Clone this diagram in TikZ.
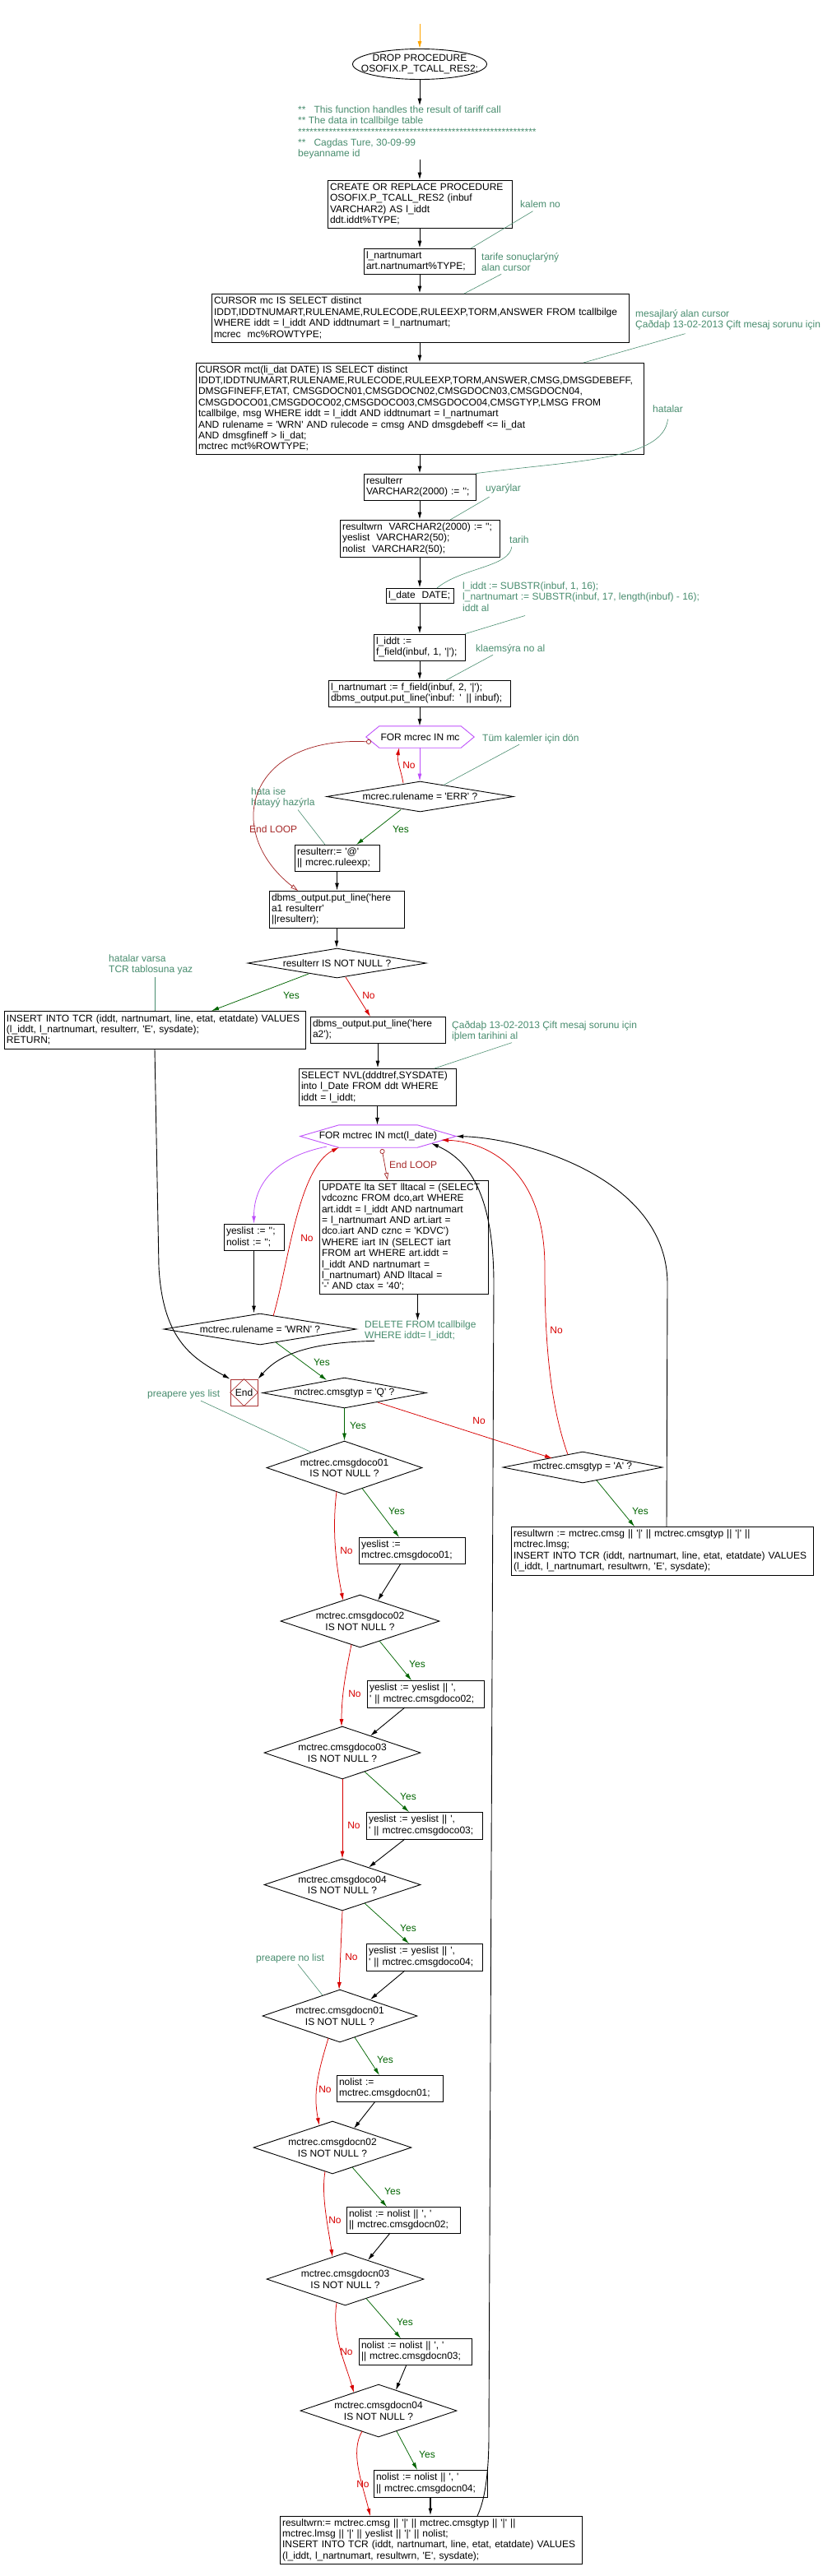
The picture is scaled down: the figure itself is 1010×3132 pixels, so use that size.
\documentclass[tikz,border=0pt]{standalone}
\usepackage{fontspec}
\newfontfamily\arl{Liberation Sans}
\usetikzlibrary{arrows.meta,shapes.geometric}
\definecolor{notec}{RGB}{72,140,110}
\definecolor{yesc}{RGB}{0,100,0}
\definecolor{noc}{RGB}{215,0,0}
\definecolor{loopc}{RGB}{165,40,40}
\definecolor{hexc}{RGB}{190,80,250}
\definecolor{orangec}{RGB}{255,165,0}
\definecolor{endc}{RGB}{170,50,50}
\newcommand\Lb[1]{\mbox{#1}}
\begin{document}
\begin{tikzpicture}[x=1pt,y=-1pt,
  every node/.style={font=\arl\fontsize{12}{13.4}\selectfont},
  pbox/.style={draw, line width=0.9pt, align=left, inner xsep=3pt, inner ysep=0pt},
  dia/.style={draw, diamond, line width=0.9pt, inner sep=0pt, align=center},
  note/.style={text=notec, align=left, inner sep=0pt, anchor=north west},
  lab/.style={inner sep=0pt},
  arr/.style={-{Latex[length=9pt,width=5pt]}, line width=0.9pt},
  yarr/.style={arr, line width=0.75pt, draw=yesc},
  narr/.style={arr, line width=0.75pt, draw=noc},
  parr/.style={arr, line width=0.8pt, draw=hexc},
  larr/.style={{Circle[open,length=6pt]}-{Triangle[open,length=9pt,width=5pt]}, line width=0.75pt, draw=loopc},
  ann/.style={draw=notec, line width=0.6pt},
  hexline/.style={draw=hexc, line width=0.9pt}
]
\useasboundingbox (0,0) rectangle (1010,3132);

% ---------- start ----------
\coordinate (start) at (510,29);
\node[draw, ellipse, line width=0.9pt, minimum width=163pt, minimum height=37pt, inner sep=0pt] (e0) at (510,78) {};
\node[align=center, inner sep=0pt] (e0t) at (e0.center) {DROP PROCEDURE\\OSOFIX.P\_TCALL\_RES2;};
\draw[arr, draw=orangec] (start) -- (e0.north);

\node[note] (c0) at (362,128.5) {**\ \ \ This function handles the result of tariff call\\** The data in tcallbilge table\\**************************************************************\\**\ \ \ Cagdas Ture, 30-09-99\\beyanname id};

% ---------- boxes ----------
\node[pbox, text width=218pt, minimum height=58pt] (b1) at (510,248) {\Lb{CREATE OR REPLACE PROCEDURE}\\\Lb{OSOFIX.P\_TCALL\_RES2 (inbuf}\\\Lb{VARCHAR2) AS l\_iddt}\\\Lb{ddt.iddt\%TYPE;}};
\node[pbox, text width=129pt, minimum height=31pt] (b2) at (509.5,317.5) {\Lb{l\_nartnumart}\\\Lb{art.nartnumart\%TYPE;}};
\node[pbox, text width=501pt, minimum height=59pt] (b3) at (510.5,386.5) {\Lb{CURSOR mc IS SELECT distinct}\\\Lb{IDDT,IDDTNUMART,RULENAME,RULECODE,RULEEXP,TORM,ANSWER FROM tcallbilge}\\\Lb{WHERE iddt = l\_iddt AND iddtnumart = l\_nartnumart;}\\\Lb{mcrec\ \ mc\%ROWTYPE;}};
\node[pbox, text width=538pt, minimum height=111pt] (b4) at (510,496.5) {\Lb{CURSOR mct(li\_dat DATE) IS SELECT distinct}\\\Lb{IDDT,IDDTNUMART,RULENAME,RULECODE,RULEEXP,TORM,ANSWER,CMSG,DMSGDEBEFF,}\\\Lb{DMSGFINEFF,ETAT, CMSGDOCN01,CMSGDOCN02,CMSGDOCN03,CMSGDOCN04,}\\\Lb{CMSGDOCO01,CMSGDOCO02,CMSGDOCO03,CMSGDOCO04,CMSGTYP,LMSG FROM}\\\Lb{tcallbilge, msg WHERE iddt = l\_iddt AND iddtnumart = l\_nartnumart}\\\Lb{AND rulename = 'WRN' AND rulecode = cmsg AND dmsgdebeff <= li\_dat}\\\Lb{AND dmsgfineff > li\_dat;}\\\Lb{mctrec mct\%ROWTYPE;}};
\node[pbox, text width=130pt, minimum height=32pt] (b5) at (510,592) {\Lb{resulterr}\\\Lb{VARCHAR2(2000) := '';}};
\node[pbox, text width=188pt, minimum height=45pt] (b6) at (510,654.5) {\Lb{resultwrn\ \ VARCHAR2(2000) := '';}\\\Lb{yeslist\ \ VARCHAR2(50);}\\\Lb{nolist\ \ VARCHAR2(50);}};
\node[pbox, text width=76pt, minimum height=18pt] (b7) at (510,724) {\Lb{l\_date\ \ DATE;}};
\node[pbox, text width=105pt, minimum height=32pt] (b8) at (509.5,787) {\Lb{l\_iddt :=}\\\Lb{f\_field(inbuf, 1, '|');}};
\node[pbox, text width=215pt, minimum height=32pt] (b9) at (509.5,843) {\Lb{l\_nartnumart := f\_field(inbuf, 2, '|');}\\\Lb{dbms\_output.put\_line('inbuf: ' || inbuf);}};

\node[inner sep=0pt, minimum width=131pt, minimum height=26pt] (hex1) at (510.5,896) {FOR mcrec IN mc};
\draw[hexline] (hex1.west) -- ([xshift=16pt]hex1.north west) -- ([xshift=-16pt]hex1.north east) -- (hex1.east) -- ([xshift=-16pt]hex1.south east) -- ([xshift=16pt]hex1.south west) -- cycle;

\node[dia, aspect=6.14, minimum width=227pt, minimum height=37pt] (d1) at (510.5,968.5) {mcrec.rulename = 'ERR' ?};
\node[pbox, text width=97pt, minimum height=32pt] (b10) at (409.5,1043) {\Lb{resulterr:= '@'}\\\Lb{|| mcrec.ruleexp;}};
\node[pbox, text width=158pt, minimum height=45pt] (b11) at (409,1105.5) {\Lb{dbms\_output.put\_line('here}\\\Lb{a1 resulterr'}\\\Lb{||resulterr);}};
\node[dia, aspect=6.03, minimum width=217pt, minimum height=36pt] (d2) at (409.5,1171) {resulterr IS NOT NULL ?};
\node[pbox, text width=360pt, minimum height=46pt] (b12) at (188,1252) {\Lb{INSERT INTO TCR (iddt, nartnumart, line, etat, etatdate) VALUES}\\\Lb{(l\_iddt, l\_nartnumart, resulterr, 'E', sysdate);}\\\Lb{RETURN;}};
\node[pbox, text width=158pt, minimum height=32pt] (b13) at (459,1252) {\Lb{dbms\_output.put\_line('here}\\\Lb{a2');}};
\node[pbox, text width=185pt, minimum height=45pt] (b14) at (458.5,1321.5) {\Lb{SELECT NVL(dddtref,SYSDATE)}\\\Lb{into l\_Date FROM ddt WHERE}\\\Lb{iddt = l\_iddt;}};

\node[inner sep=0pt, minimum width=189pt, minimum height=27pt] (hex2) at (459.5,1381.5) {FOR mctrec IN mct(l\_date)};
\draw[hexline] (hex2.west) -- ([xshift=47pt]hex2.north west) -- ([xshift=-47pt]hex2.north east) -- (hex2.east) -- ([xshift=-47pt]hex2.south east) -- ([xshift=47pt]hex2.south west) -- cycle;

\node[pbox, text width=199pt, minimum height=138pt] (b15) at (490.5,1504) {\Lb{UPDATE lta SET lltacal = (SELECT}\\\Lb{vdcoznc FROM dco,art WHERE}\\\Lb{art.iddt = l\_iddt AND nartnumart}\\\Lb{= l\_nartnumart AND art.iart =}\\\Lb{dco.iart AND cznc = 'KDVC')}\\\Lb{WHERE iart IN (SELECT iart}\\\Lb{FROM art WHERE art.iddt =}\\\Lb{l\_iddt AND nartnumart =}\\\Lb{l\_nartnumart) AND lltacal =}\\\Lb{'-' AND ctax = '40';}};
\node[pbox, text width=67pt, minimum height=32pt] (b16) at (308.5,1504) {\Lb{yeslist := '';}\\\Lb{nolist := '';}};
\node[dia, aspect=6.16, minimum width=234pt, minimum height=38pt] (dW) at (316,1616) {mctrec.rulename = 'WRN' ?};
\node[note] (del) at (443,1605.5) {DELETE FROM tcallbilge\\WHERE iddt= l\_iddt;};

\node[draw=endc, line width=0.9pt, minimum width=33pt, minimum height=32pt, inner sep=0pt] (End) at (296.5,1693) {End};
\draw[endc, line width=0.7pt] (End.north) -- (End.east) -- (End.south) -- (End.west) -- cycle;

\node[dia, aspect=5.38, minimum width=199pt, minimum height=37pt] (dQ) at (418.5,1693.5) {mctrec.cmsgtyp = 'Q' ?};
\node[dia, aspect=5.1, minimum width=194pt, minimum height=38pt] (dA) at (708,1784) {mctrec.cmsgtyp = 'A' ?};
\node[pbox, text width=361pt, minimum height=59pt] (bA) at (804.5,1885.5) {\Lb{resultwrn := mctrec.cmsg || '|' || mctrec.cmsgtyp || '|' ||}\\\Lb{mctrec.lmsg;}\\\Lb{INSERT INTO TCR (iddt, nartnumart, line, etat, etatdate) VALUES}\\\Lb{(l\_iddt, l\_nartnumart, resultwrn, 'E', sysdate);}};

\node[dia, aspect=2.91, minimum width=189pt, minimum height=65pt] (d01) at (418.5,1784.5) {mctrec.cmsgdoco01\\IS NOT NULL ?};
\node[pbox, text width=123pt, minimum height=32pt] (y1) at (500.5,1885) {\Lb{yeslist :=}\\\Lb{mctrec.cmsgdoco01;}};
\node[dia, aspect=3.02, minimum width=193pt, minimum height=64pt] (d02) at (437.5,1971) {mctrec.cmsgdoco02\\IS NOT NULL ?};
\node[pbox, text width=136pt, minimum height=33pt] (y2) at (517,2059.5) {\Lb{yeslist := yeslist || ',}\\\Lb{' || mctrec.cmsgdoco02;}};
\node[dia, aspect=2.97, minimum width=190pt, minimum height=64pt] (d03) at (416,2131) {mctrec.cmsgdoco03\\IS NOT NULL ?};
\node[pbox, text width=135pt, minimum height=33pt] (y3) at (515.5,2219.5) {\Lb{yeslist := yeslist || ',}\\\Lb{' || mctrec.cmsgdoco03;}};
\node[dia, aspect=3.02, minimum width=190pt, minimum height=63pt] (d04) at (416,2291.5) {mctrec.cmsgdoco04\\IS NOT NULL ?};
\node[pbox, text width=135pt, minimum height=33pt] (y4) at (515.5,2379.5) {\Lb{yeslist := yeslist || ',}\\\Lb{' || mctrec.cmsgdoco04;}};
\node[dia, aspect=2.94, minimum width=188pt, minimum height=64pt] (n01) at (413,2451) {mctrec.cmsgdocn01\\IS NOT NULL ?};
\node[pbox, text width=123pt, minimum height=32pt] (no1) at (473.5,2539) {\Lb{nolist :=}\\\Lb{mctrec.cmsgdocn01;}};
\node[dia, aspect=3.0, minimum width=192pt, minimum height=64pt] (n02) at (404,2611) {mctrec.cmsgdocn02\\IS NOT NULL ?};
\node[pbox, text width=132pt, minimum height=32pt] (no2) at (490,2699) {\Lb{nolist := nolist || ', '}\\\Lb{|| mctrec.cmsgdocn02;}};
\node[dia, aspect=2.98, minimum width=191pt, minimum height=64pt] (n03) at (419.5,2771) {mctrec.cmsgdocn03\\IS NOT NULL ?};
\node[pbox, text width=131pt, minimum height=32pt] (no3) at (504.5,2859) {\Lb{nolist := nolist || ', '}\\\Lb{|| mctrec.cmsgdocn03;}};
\node[dia, aspect=2.97, minimum width=190pt, minimum height=64pt] (n04) at (460,2931) {mctrec.cmsgdocn04\\IS NOT NULL ?};
\node[pbox, text width=132pt, minimum height=33pt] (no4) at (523,3019.5) {\Lb{nolist := nolist || ', '}\\\Lb{|| mctrec.cmsgdocn04;}};
\node[pbox, text width=361pt, minimum height=58pt] (fin) at (523.5,3088) {\Lb{resultwrn:= mctrec.cmsg || '|' || mctrec.cmsgtyp || '|' ||}\\\Lb{mctrec.lmsg || '|' || yeslist || '|' || nolist;}\\\Lb{INSERT INTO TCR (iddt, nartnumart, line, etat, etatdate) VALUES}\\\Lb{(l\_iddt, l\_nartnumart, resultwrn, 'E', sysdate);}};

% ---------- notes ----------
\node[note] (nkalem) at (632,243.5) {kalem no};
\node[note] (ntarife) at (585,307.5) {tarife sonuçlarýný\\alan cursor};
\node[note] (nmesaj) at (772,376.5) {mesajlarý alan cursor\\Çaðdaþ 13-02-2013 Çift mesaj sorunu için};
\node[note] (nhatalar) at (793,492.5) {hatalar};
\node[note] (nuyar) at (590,588.5) {uyarýlar};
\node[note] (ntarih) at (619,651.5) {tarih};
\node[note] (nsubs) at (562,707.5) {l\_iddt := SUBSTR(inbuf, 1, 16);\\l\_nartnumart := SUBSTR(inbuf, 17, length(inbuf) - 16);\\iddt al};
\node[note] (nklaem) at (578,783.5) {klaemsýra no al};
\node[note] (ntum) at (586,892.5) {Tüm kalemler için dön};
\node[note] (nhata) at (305,957.5) {hata ise\\hatayý hazýrla};
\node[note] (nhv) at (132,1160.5) {hatalar varsa\\TCR tablosuna yaz};
\node[note] (ncag) at (549,1241.5) {Çaðdaþ 13-02-2013 Çift mesaj sorunu için\\iþlem tarihini al};
\node[note] (nyes) at (179,1689.5) {preapere yes list};
\node[note] (nno) at (311,2375.5) {preapere no list};

% ---------- annotation lines ----------
\draw[ann] ([xshift=-9pt,yshift=-4pt]nkalem.south) -- ([shift={(62.5,-15.5)}]b2.center);
\draw[ann] ([xshift=-23pt,yshift=-3pt]ntarife.south) -- ([shift={(53.5,-29.5)}]b3.center);
\draw[ann] ([xshift=-52pt,yshift=-4pt]nmesaj.south) -- ([shift={(199,-55.5)}]b4.center);
\draw[ann] ([yshift=-8pt]nhatalar.south) .. controls +(-6,50) and +(122,-16) .. (b5.north east);
\draw[ann] ([xshift=-17pt,yshift=-4pt]nuyar.south) -- ([shift={(37,-22.5)}]b6.center);
\draw[ann] ([xshift=-9pt,yshift=-4pt]ntarih.south) .. controls +(-3,25) and +(30,-25) .. ([shift={(21,-9)}]b7.center);
\draw[ann] ([xshift=76pt,yshift=-5pt]nsubs.south west) -- (b8.north east);
\draw[ann] ([xshift=21pt,yshift=-1pt]nklaem.south west) -- ([shift={(32.5,-16)}]b9.center);
\draw[ann] ([xshift=45pt,yshift=-1pt]ntum.south west) -- ([shift={(28.5,-14)}]d1.center);
\draw[ann] ([xshift=57pt,yshift=-2pt]nhata.south west) -- ([shift={(-14.5,-16)}]b10.center);
\draw[ann] ([xshift=56pt,yshift=-2pt]nhv.south west) -- (b12.north);
\draw[ann] ([xshift=73pt,yshift=-1pt]ncag.south west) -- ([shift={(69.5,-22.5)}]b14.center);
\draw[ann] ([xshift=65pt,yshift=-2pt]nyes.south west) -- ([shift={(-40.5,-19)}]d01.center);
\draw[ann] ([xshift=51pt,yshift=-1pt]nno.south west) -- ([shift={(-21,-25)}]n01.center);

% ---------- main chain ----------
\draw[arr] (e0.south) -- (e0.south |- c0.north);
\draw[arr] (c0.south -| b1.north) -- (b1.north);
\draw[arr] (b1.south) -- (b1.south |- b2.north);
\draw[arr] (b2.south -| b1.south) -- (b1.south |- b3.north);
\draw[arr] (b3.south -| b1.south) -- (b1.south |- b4.north);
\draw[arr] (b4.south) -- (b4.south |- b5.north);
\draw[arr] (b5.south) -- (b5.south |- b6.north);
\draw[arr] (b6.south) -- (b6.south |- b7.north);
\draw[arr] (b7.south) -- (b7.south |- b8.north);
\draw[arr] (b8.south -| b7.south) -- (b7.south |- b9.north);
\draw[arr] (b9.south -| b7.south) -- (b7.south |- hex1.north);
\draw[parr] (hex1.south -| b7.south) -- (b7.south |- d1.north);

\draw[narr] ([shift={(-20.5,-16.5)}]d1.center) to[out=100,in=-100] ([shift={(-25.5,13)}]hex1.center);
\node[lab, text=noc] (lN1) at (497,930) {No};
\draw[yarr] ([shift={(-23.5,16)}]d1.center) -- ([shift={(23.5,-16)}]b10.center);
\node[lab, text=yesc] (lY1) at (487,1008) {Yes};

\draw[larr] ([shift={(-59.5,6)}]hex1.center) .. controls +(-151,-7) and +(-92,-72) .. ([shift={(-47,-22.5)}]b11.center);
\node[lab, text=loopc, anchor=west] (lL1) at (303,1008) {End LOOP};

\draw[arr] (b10.south) -- (b10.south |- b11.north);
\draw[arr] (b11.south) -- (b11.south |- d2.north);
\draw[yarr] ([shift={(-34.5,13)}]d2.center) -- ([shift={(69,-23)}]b12.center);
\node[lab, text=yesc] (lY2) at (354,1210) {Yes};
\draw[narr] ([shift={(10.5,17)}]d2.center) -- ([shift={(-9,-16)}]b13.center);
\node[lab, text=noc] (lN2) at (448,1210) {No};

\draw[arr] (b13.south) -- (b13.south |- b14.north);
\draw[arr] (b14.south) -- (b14.south |- hex2.north);

\draw[arr] (b12.south) -- ++(5,265) .. controls +(5,90) and +(-45,-25) .. (End.north west);

\draw[parr] ([shift={(-62.5,12.5)}]hex2.center) .. controls +(-60,12) and +(0,-50) .. (b16.north);
\draw[arr] (b16.south) -- (b16.south |- dW.north);
\draw[narr] ([shift={(16,-16)}]dW.center) .. controls +(18,-60) and +(-50,25) .. ([shift={(-47.5,13.5)}]hex2.center);
\node[lab, text=noc] (lN3) at (373,1505) {No};

\draw[larr] ([shift={(4.5,15.5)}]hex2.center) -- ([shift={(-19.5,-69)}]b15.center);
\node[lab, text=loopc, anchor=west] (lL2) at (473,1416) {End LOOP};

\draw[arr] ([xshift=17pt]b15.south) -- ([xshift=17pt]b15.south |- del.north);
\draw[arr] ([xshift=12pt]del.south west) .. controls +(-90,2) and +(22,-25) .. (End.north east);

\draw[yarr] ([shift={(19,16)}]dW.center) -- ([shift={(-21.5,-15.5)}]dQ.center);
\node[lab, text=yesc] (lY3) at (391,1656) {Yes};
\draw[yarr] (dQ.south) -- (dQ.south |- d01.north);
\node[lab, text=yesc] (lY4) at (435,1733) {Yes};
\draw[narr] ([shift={(40.5,11.5)}]dQ.center) -- ([shift={(-37,-11)}]dA.center);
\node[lab, text=noc] (lN4) at (582,1727) {No};
\draw[yarr] ([shift={(17,16)}]dA.center) -- ([shift={(-33.5,-29.5)}]bA.center);
\node[lab, text=yesc] (lY5) at (778,1837) {Yes};

\draw[arr] ([shift={(5.5,-29.5)}]bA.center) -- ++(1,-295) .. controls +(0,-130) and +(80,2) .. (hex2.east);
\draw[narr] ([shift={(-18,-15.5)}]dA.center) .. controls +(-25,-70) and +(0,70) .. ++(-28,-228) .. controls +(0,-120) and +(55,2) .. ([shift={(76.5,4.5)}]hex2.center);
\node[lab, text=noc] (lN5) at (676,1617) {No};
\draw[arr] ([shift={(56.5,-29)}]fin.center) .. controls +(12,-25) and +(0,30) .. ++(14,-98) -- ++(6,-1400) .. controls +(0,-110) and +(45,20) .. ([shift={(64.5,8.5)}]hex2.center);

% ---------- yes list ----------
\draw[yarr] ([shift={(21.5,25)}]d01.center) -- ([shift={(-15.5,-16)}]y1.center);
\node[lab, text=yesc] (lY6) at (482,1837) {Yes};
\draw[narr] ([shift={(-9.5,29)}]d01.center) .. controls +(-6,50) and +(-8,-40) .. ([shift={(-20.5,-25)}]d02.center);
\node[lab, text=noc] (lN6) at (421,1885) {No};
\draw[arr] ([shift={(-13.5,16)}]y1.center) -- ([shift={(21.5,-25)}]d02.center);

\draw[yarr] ([shift={(23.5,24)}]d02.center) -- ([shift={(-17,-16.5)}]y2.center);
\node[lab, text=yesc] (lY7) at (507,2023) {Yes};
\draw[narr] ([shift={(-10.5,28.5)}]d02.center) .. controls +(-6,30) and +(0,-40) .. ([shift={(-1,-32)}]d03.center);
\node[lab, text=noc] (lN7) at (431,2059) {No};
\draw[arr] ([shift={(-25,16.5)}]y2.center) -- ([shift={(34,-20.5)}]d03.center);

\draw[yarr] ([shift={(27,23)}]d03.center) -- ([shift={(-18.5,-16.5)}]y3.center);
\node[lab, text=yesc] (lY8) at (496,2184) {Yes};
\draw[narr] (d03.south) -- (d03.south |- d04.north);
\node[lab, text=noc] (lN8) at (430,2219) {No};
\draw[arr] ([shift={(-23.5,16.5)}]y3.center) -- ([shift={(32,-21)}]d04.center);

\draw[yarr] ([shift={(27,22.5)}]d04.center) -- ([shift={(-18.5,-16.5)}]y4.center);
\node[lab, text=yesc] (lY9) at (496,2344) {Yes};
\draw[narr] (d04.south) -- ([shift={(-1,-32)}]n01.center);
\node[lab, text=noc] (lN9) at (427,2379) {No};
\draw[arr] ([shift={(-23.5,16.5)}]y4.center) -- ([shift={(37,-20)}]n01.center);

% ---------- no list ----------
\draw[yarr] ([shift={(18,26)}]n01.center) -- ([shift={(-12.5,-16)}]no1.center);
\node[lab, text=yesc] (lY10) at (468,2504) {Yes};
\draw[narr] ([shift={(-14,27)}]n01.center) .. controls +(-12,40) and +(-8,-40) .. ([shift={(-16,-27)}]n02.center);
\node[lab, text=noc] (lN10) at (395,2540) {No};
\draw[arr] ([shift={(-17.5,16)}]no1.center) -- ([shift={(26,-23)}]n02.center);

\draw[yarr] ([shift={(24,24)}]n02.center) -- ([shift={(-20,-16)}]no2.center);
\node[lab, text=yesc] (lY11) at (477,2664) {Yes};
\draw[narr] ([shift={(-9,29)}]n02.center) .. controls +(-5,30) and +(-5,-35) .. ([shift={(-15.5,-27)}]n03.center);
\node[lab, text=noc] (lN11) at (407,2699) {No};
\draw[arr] ([shift={(-16,16)}]no2.center) -- ([shift={(27.5,-23)}]n03.center);

\draw[yarr] ([shift={(25.5,23.5)}]n03.center) -- ([shift={(-17.5,-16)}]no3.center);
\node[lab, text=yesc] (lY12) at (492,2823) {Yes};
\draw[narr] ([shift={(-10.5,29)}]n03.center) .. controls +(-6,40) and +(-10,-35) .. ([shift={(-30,-22)}]n04.center);
\node[lab, text=noc] (lN12) at (421,2859) {No};
\draw[arr] ([shift={(-10.5,16)}]no3.center) -- ([shift={(21,-25)}]n04.center);

\draw[yarr] ([shift={(22,25)}]n04.center) -- ([shift={(-16,-16.5)}]no4.center);
\node[lab, text=yesc] (lY13) at (519,2984) {Yes};
\draw[narr] ([shift={(-20,25)}]n04.center) .. controls +(-15,25) and +(-10,-40) .. ([shift={(-73.5,-29)}]fin.center);
\node[lab, text=noc] (lN13) at (441,3020) {No};
\draw[arr, line width=1.3pt] (no4.south) -- (no4.south |- fin.north);
\end{tikzpicture}
\end{document}
